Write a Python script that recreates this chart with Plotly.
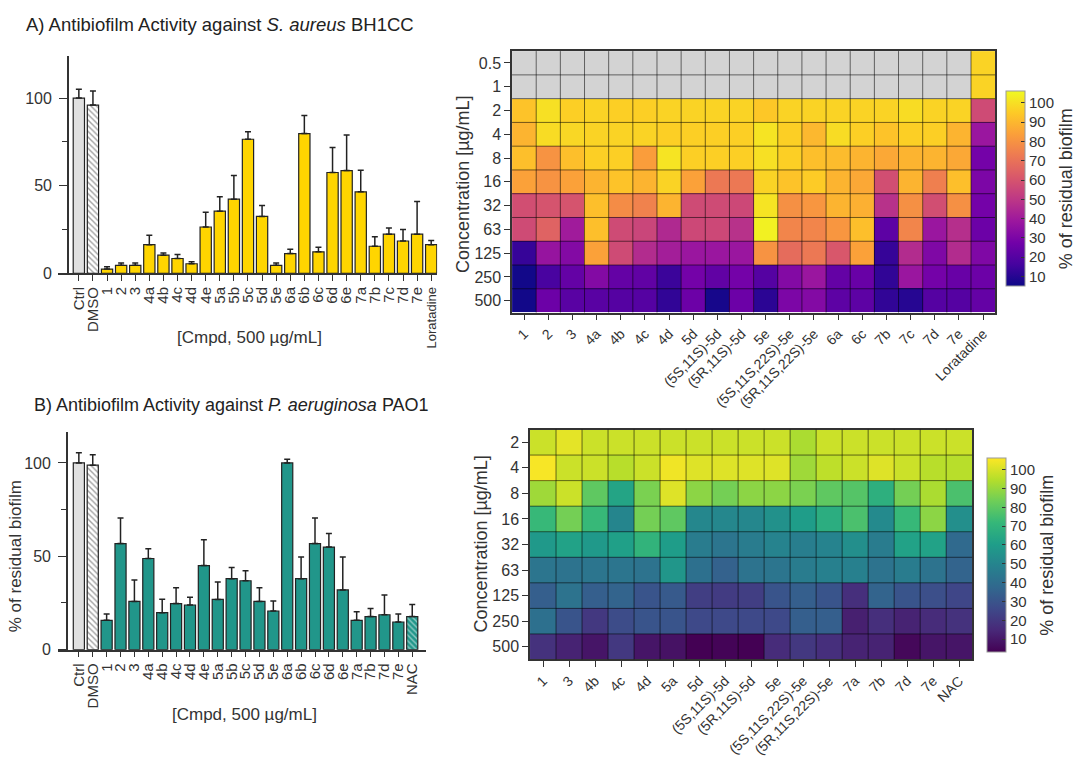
import plotly.graph_objects as go

W, H = 1078, 758
FONT = "Liberation Sans, Arial, sans-serif"
TXT = "#333333"

# ---------------- Panel A bars (S. aureus) ----------------
a_cats = ["Ctrl", "DMSO", "1", "2", "3", "4a", "4b", "4c", "4d", "4e", "5a", "5b", "5c",
          "5d", "5e", "6a", "6b", "6c", "6d", "6e", "7a", "7b", "7c", "7d", "7e", "Loratadine"]
a_mean = [100, 96, 2.4, 4.5, 4.5, 16.3, 10.3, 8.4, 5.4, 26.4, 35.4, 42.3, 76.5,
          32.4, 4.5, 11.2, 79.7, 12.2, 57.5, 58.6, 46.5, 15.4, 22.3, 18.4, 22.3, 16.3]
a_sd = [5, 8, 1.3, 1.3, 1.3, 5.4, 1.3, 2.3, 1.2, 8.4, 8.2, 13.5, 4.3,
        6.2, 1.3, 2.5, 10.3, 2.6, 14.3, 20.3, 12.3, 5.4, 3.5, 6.5, 18.7, 2.4]

# ---------------- Panel B bars (P. aeruginosa) ----------------
b_cats = ["Ctrl", "DMSO", "1", "2", "3", "4a", "4b", "4c", "4d", "4e", "5a", "5b", "5c",
          "5d", "5e", "6a", "6b", "6c", "6d", "6e", "7a", "7b", "7d", "7e", "NAC"]
b_mean = [100, 98.8, 15.7, 56.8, 25.8, 48.8, 19.8, 24.7, 23.9, 45, 26.9, 38, 36.9,
          25.8, 20.7, 100, 38, 56.8, 54.9, 32, 15.7, 17.7, 18.7, 14.8, 17.7]
b_sd = [5.4, 5.6, 3.4, 13.7, 11.5, 5.2, 7.2, 8.5, 4.2, 13.9, 9.3, 6, 5.3,
        7.4, 5.4, 2, 11.6, 13.7, 7.3, 17.6, 4.6, 4.4, 10.6, 4.3, 6.5]

# ---------------- Heatmap A ----------------
ha_cols = ["1", "2", "3", "4a", "4b", "4c", "4d", "5d", "(5S,11S)-5d", "(5R,11S)-5d", "5e",
           "(5S,11S,22S)-5e", "(5R,11S,22S)-5e", "6a", "6c", "7b", "7c", "7d", "7e", "Loratadine"]
ha_rows = ["0.5", "1", "2", "4", "8", "16", "32", "63", "125", "250", "500"]
N = None
ha_z = [
    [N] * 19 + [97],
    [N] * 19 + [97],
    [93, 100, 96, 97, 96, 96, 97, 97, 97, 97, 94, 97, 97, 97, 97, 97, 99, 97, 97, 57],
    [89, 99, 98, 97, 97, 97, 96, 96, 96, 96, 101, 96, 90, 99, 96, 93, 96, 96, 89, 38],
    [92, 80, 92, 96, 96, 83, 101, 96, 96, 96, 100, 96, 92, 91, 89, 86, 89, 89, 86, 28],
    [84, 80, 84, 89, 93, 89, 97, 84, 72, 72, 97, 93, 95, 89, 86, 58, 89, 74, 92, 30],
    [58, 60, 60, 92, 78, 75, 89, 57, 57, 56, 101, 79, 81, 89, 88, 48, 79, 58, 79, 28],
    [57, 65, 40, 92, 57, 55, 45, 56, 56, 48, 104, 76, 76, 81, 92, 22, 76, 38, 47, 26],
    [13, 37, 32, 84, 57, 46, 41, 38, 38, 38, 80, 68, 72, 61, 84, 13, 46, 31, 46, 31],
    [6, 17, 24, 32, 24, 23, 14, 28, 23, 28, 20, 32, 38, 24, 25, 12, 38, 28, 25, 26],
    [6, 26, 21, 21, 20, 20, 12, 26, 7, 26, 11, 30, 32, 22, 22, 12, 10, 20, 20, 24],
]

# ---------------- Heatmap B ----------------
hb_cols = ["1", "3", "4b", "4c", "4d", "5a", "5d", "(5S,11S)-5d", "(5R,11S)-5d", "5e",
           "(5S,11S,22S)-5e", "(5R,11S,22S)-5e", "7a", "7b", "7d", "7e", "NAC"]
hb_rows = ["2", "4", "8", "16", "32", "63", "125", "250", "500"]
hb_z = [
    [98, 102, 98, 98, 98, 98, 98, 98, 98, 98, 93, 98, 98, 98, 98, 98, 98],
    [105, 98, 98, 95, 98, 104, 101, 101, 101, 101, 91, 96, 98, 101, 98, 95, 95],
    [91, 98, 80, 63, 85, 101, 88, 84, 88, 88, 85, 80, 78, 68, 84, 93, 76],
    [72, 84, 72, 50, 84, 80, 51, 51, 51, 55, 60, 67, 76, 52, 72, 88, 54],
    [58, 62, 58, 61, 70, 60, 46, 43, 46, 49, 47, 49, 54, 46, 62, 62, 38],
    [43, 42, 43, 43, 42, 57, 41, 35, 42, 43, 46, 48, 48, 42, 46, 42, 36],
    [34, 42, 34, 36, 30, 32, 22, 21, 22, 30, 34, 30, 17, 36, 30, 28, 25],
    [41, 30, 20, 27, 30, 30, 26, 26, 26, 26, 34, 34, 12, 17, 13, 16, 18],
    [18, 13, 9, 20, 9, 8, 3, 4, 3, 16, 20, 17, 13, 13, 5, 9, 9],
]


def px_x(p):
    return p / W


def px_y(p):
    return 1 - p / H


fig = go.Figure()

# ---- bar A ----
a_colors = ["#e0e0e0", "#ffffff"] + ["#FFD500"] * (len(a_cats) - 2)
a_shapes = ["", "\\"] + [""] * (len(a_cats) - 2)
fig.add_trace(go.Bar(
    x=list(range(len(a_cats))), y=a_mean, width=0.8,
    marker=dict(color=a_colors, line=dict(color="#222222", width=1.2),
                pattern=dict(shape=a_shapes, fgcolor="#111111", size=4, solidity=0.35)),
    error_y=dict(type="data", symmetric=False, array=a_sd, arrayminus=[0] * len(a_sd),
                 color="#222222", thickness=1.5, width=3),
    xaxis="x", yaxis="y", showlegend=False))

# ---- bar B ----
b_colors = ["#e0e0e0", "#ffffff"] + ["#21968A"] * (len(b_cats) - 2)
b_shapes = ["", "\\"] + [""] * (len(b_cats) - 3) + ["\\"]
fig.add_trace(go.Bar(
    x=list(range(len(b_cats))), y=b_mean, width=0.8,
    marker=dict(color=b_colors, line=dict(color="#222222", width=1.2),
                pattern=dict(shape=b_shapes, fgcolor="#111111", size=4, solidity=0.35)),
    error_y=dict(type="data", symmetric=False, array=b_sd, arrayminus=[0] * len(b_sd),
                 color="#222222", thickness=1.5, width=3),
    xaxis="x2", yaxis="y2", showlegend=False))


def cbar(y_center, length, x_left):
    return dict(x=px_x(x_left), xanchor="left", y=px_y(y_center), yanchor="middle",
                len=length / H, lenmode="fraction", thickness=19, thicknessmode="pixels",
                xpad=0, ypad=0, outlinewidth=1, outlinecolor="#999999",
                tickvals=[10, 20, 30, 40, 50, 60, 70, 80, 90, 100],
                ticks="inside", ticklen=4, tickcolor="#333333",
                tickfont=dict(size=15, color=TXT, family=FONT),
                title=dict(text="% of residual biofilm", side="right",
                           font=dict(size=18, color=TXT, family=FONT)))


# ---- heatmap A ----
ha_gray = [[1 if v is None else None for v in row] for row in ha_z]
fig.add_trace(go.Heatmap(x=ha_cols, y=ha_rows, z=ha_gray, colorscale=[[0, "#d3d3d3"], [1, "#d3d3d3"]],
                         showscale=False, hoverinfo="skip", xaxis="x3", yaxis="y3"))
fig.add_trace(go.Heatmap(x=ha_cols, y=ha_rows, z=ha_z, colorscale="Plasma", zmin=5, zmax=106,
                         xaxis="x3", yaxis="y3", colorbar=cbar(192, 198, 1008)))

# ---- heatmap B ----
fig.add_trace(go.Heatmap(x=hb_cols, y=hb_rows, z=hb_z, colorscale="Viridis", zmin=3, zmax=106,
                         xaxis="x4", yaxis="y4", colorbar=cbar(565, 197, 989)))

# grid lines on heatmaps
shapes = []
for xa, ya, nc, nr in (("x3", "y3", len(ha_cols), len(ha_rows)), ("x4", "y4", len(hb_cols), len(hb_rows))):
    for i in range(1, nc):
        shapes.append(dict(type="line", xref=xa, yref=ya + " domain", x0=i - 0.5, x1=i - 0.5, y0=0, y1=1,
                           line=dict(color="rgba(0,0,0,0.55)", width=1)))
    for j in range(1, nr):
        shapes.append(dict(type="line", xref=xa + " domain", yref=ya, x0=0, x1=1, y0=j - 0.5, y1=j - 0.5,
                           line=dict(color="rgba(0,0,0,0.55)", width=1)))

bar_x_common = dict(tickmode="array", showline=True, linecolor="#333333", linewidth=1.5,
                    ticks="outside", ticklen=6, tickwidth=1.3, tickcolor="#333333",
                    tickangle=-90, tickfont=dict(size=15, color=TXT, family=FONT),
                    showgrid=False, zeroline=False, fixedrange=True)
bar_y_common = dict(showline=True, linecolor="#333333", linewidth=1.5, ticks="outside", ticklen=8,
                    tickwidth=1.3, tickcolor="#333333", tickvals=[0, 50, 100], ticklabelstandoff=4,
                    minor=dict(tickvals=[25, 75], ticks="outside", ticklen=5, tickwidth=1.3, tickcolor="#333333"),
                    tickfont=dict(size=16, color=TXT, family=FONT), showgrid=False, zeroline=False)

heat_x_common = dict(type="category", showline=True, mirror=True, linecolor="#333333", linewidth=1.5,
                     ticks="outside", ticklen=6, tickcolor="#333333", tickangle=-45,
                     tickfont=dict(size=14, color=TXT, family=FONT), showgrid=False, zeroline=False)
heat_y_common = dict(type="category", showline=True, mirror=True, linecolor="#333333", linewidth=1.5,
                     ticks="outside", ticklen=6, tickcolor="#333333", autorange="reversed",
                     tickfont=dict(size=16, color=TXT, family=FONT), showgrid=False, zeroline=False)

lo_a = -(79 - 58) / ((432 - 79) / 25)
hi_a = 25 + (438 - 432) / ((432 - 79) / 25)
lo_b = -(79 - 58) / ((413 - 79) / 24)
hi_b = 24 + (427 - 413) / ((413 - 79) / 24)

a_ticktext = [c if c != "Loratadine" else "<span style='font-size:13px'>Loratadine</span>" for c in a_cats]

annotations = [
    dict(text="A) Antibiofilm Activity against <i>S. aureus</i> BH1CC", x=px_x(24), y=px_y(25),
         xref="paper", yref="paper", xanchor="left", yanchor="middle", showarrow=False,
         font=dict(size=18.5, color="#222222", family=FONT)),
    dict(text="B) Antibiofilm Activity against <i>P. aeruginosa</i> PAO1", x=px_x(32), y=px_y(412),
         xref="paper", yref="paper", xanchor="left", yanchor="middle", showarrow=False,
         font=dict(size=18, color="#222222", family=FONT)),
    dict(text="[Cmpd, 500 µg/mL]", x=px_x(250), y=px_y(343), xref="paper", yref="paper",
         xanchor="center", yanchor="middle", showarrow=False, font=dict(size=17, color=TXT, family=FONT)),
    dict(text="[Cmpd, 500 µg/mL]", x=px_x(245), y=px_y(727), xref="paper", yref="paper",
         xanchor="center", yanchor="middle", showarrow=False, font=dict(size=17, color=TXT, family=FONT)),
    dict(text="% of residual biofilm", x=px_x(15), y=px_y(566), xref="paper", yref="paper",
         xanchor="center", yanchor="middle", textangle=-90, showarrow=False,
         font=dict(size=17, color=TXT, family=FONT)),
    dict(text="Concentration [µg/mL]", x=px_x(464), y=px_y(188), xref="paper", yref="paper",
         xanchor="center", yanchor="middle", textangle=-90, showarrow=False,
         font=dict(size=18, color=TXT, family=FONT)),
    dict(text="Concentration [µg/mL]", x=px_x(482), y=px_y(554), xref="paper", yref="paper",
         xanchor="center", yanchor="middle", textangle=-90, showarrow=False,
         font=dict(size=18, color=TXT, family=FONT)),
]

fig.update_layout(
    width=W, height=H, margin=dict(l=0, r=0, t=0, b=0),
    paper_bgcolor="white", plot_bgcolor="white",
    font=dict(family=FONT, color=TXT),
    bargap=0.2,
    xaxis=dict(domain=[px_x(58), px_x(438)], anchor="y", range=[lo_a, hi_a],
               tickvals=list(range(len(a_cats))), ticktext=a_ticktext, **bar_x_common),
    yaxis=dict(domain=[px_y(278), px_y(57)], anchor="free", position=px_x(68), range=[0, 124],
               **bar_y_common),
    xaxis2=dict(domain=[px_x(58), px_x(427)], anchor="y2", range=[lo_b, hi_b],
                tickvals=list(range(len(b_cats))), ticktext=b_cats, **bar_x_common),
    yaxis2=dict(domain=[px_y(661), px_y(440)], anchor="free", position=px_x(67), range=[0, 116.3],
                **bar_y_common),
    xaxis3=dict(domain=[px_x(513), px_x(997)], anchor="y3", **heat_x_common),
    yaxis3=dict(domain=[px_y(318), px_y(52)], anchor="x3", **heat_y_common),
    xaxis4=dict(domain=[px_x(531), px_x(974)], anchor="y4", **heat_x_common),
    yaxis4=dict(domain=[px_y(671), px_y(437)], anchor="x4", **heat_y_common),
    shapes=shapes,
    annotations=annotations,
)

fig.write_html("out.html")
